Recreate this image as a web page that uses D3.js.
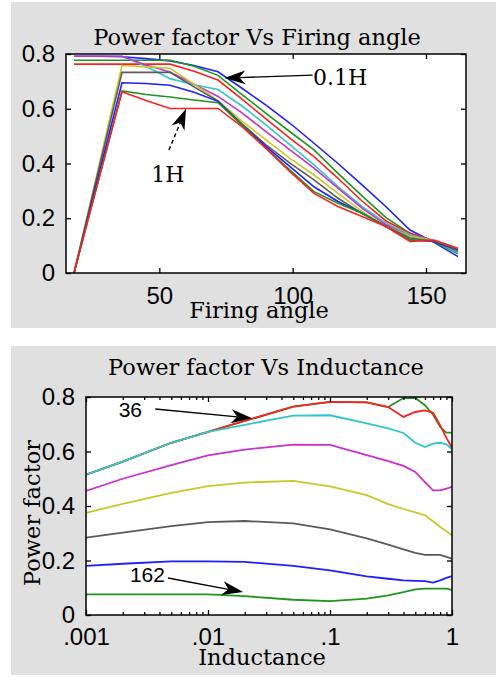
<!DOCTYPE html>
<html>
<head>
<meta charset="utf-8">
<script src="https://d3js.org/d3.v7.min.js"></script>
<style>
  body { margin: 0; background: white; }
</style>
</head>
<body>
<div id="my_dataviz"></div>
<script>

// ---- data : power factor vs firing angle, one series per inductance ----
var alpha = [18, 27, 36, 45, 54, 63, 72, 81, 90, 99, 108, 117, 126, 135, 144, 153, 162];
var inductanceNames = ["0.1H", "0.2H", "0.3H", "0.4H", "0.5H", "0.6H", "0.7H", "0.8H", "0.9H", "1H"];
var pf01 = [.792, .792, .790, .783, .775, .758, .735, .675, .613, .547, .474, .400, .322, .242, .157, .112, .060];
var pf02 = [.777, .777, .777, .777, .777, .755, .722, .652, .583, .516, .450, .364, .282, .202, .145, .115, .070];
var pf03 = [.763, .763, .763, .763, .763, .737, .705, .635, .563, .492, .425, .346, .263, .190, .145, .118, .078];
var pf04 = [.792, .792, .792, .755, .710, .688, .670, .610, .541, .468, .395, .316, .243, .182, .140, .117, .075];
var pf05 = [.792, .792, .792, .760, .734, .690, .645, .585, .516, .450, .383, .310, .237, .176, .134, .117, .080];
var pf06 = [0, .379, .758, .753, .748, .690, .630, .555, .486, .419, .358, .291, .225, .170, .134, .118, .083];
var pf07 = [0, .366, .733, .733, .733, .680, .628, .545, .468, .401, .340, .273, .218, .170, .128, .115, .083];
var pf08 = [0, .348, .695, .692, .686, .660, .627, .540, .462, .389, .315, .261, .218, .170, .121, .115, .085];
var pf09 = [0, .333, .665, .652, .643, .632, .622, .540, .455, .376, .297, .255, .218, .170, .121, .118, .088];
var pf10 = [0, .331, .662, .630, .601, .601, .601, .535, .455, .370, .291, .243, .206, .170, .115, .120, .090];

// ---- data : power factor vs inductance, one series per firing angle ----
var inductance = [0.001, 0.002, 0.005, 0.01, 0.02, 0.05, 0.1, 0.2, 0.3, 0.4, 0.5, 0.6, 0.7, 0.8, 0.9, 1];
var angleNames = ["36", "54", "72", "90", "108", "126", "144", "162"];
var pfA36  = [.515, .563, .632, .672, .712, .765, .782, .780, .763, .796, .796, .770, .735, .690, .669, .669];
var pfA54  = [.515, .563, .632, .672, .712, .765, .782, .780, .763, .727, .745, .751, .742, .696, .650, .613];
var pfA72  = [.515, .563, .632, .672, .698, .732, .733, .703, .685, .668, .632, .616, .629, .632, .626, .608];
var pfA90  = [.455, .500, .550, .586, .607, .625, .624, .587, .565, .547, .525, .488, .457, .457, .464, .470];
var pfA108 = [.375, .408, .448, .473, .486, .492, .472, .440, .407, .389, .377, .366, .344, .323, .307, .292];
var pfA126 = [.284, .302, .326, .341, .345, .336, .314, .281, .258, .241, .228, .221, .221, .221, .213, .207];
var pfA144 = [.180, .188, .197, .197, .195, .180, .164, .142, .133, .127, .125, .124, .119, .127, .136, .143];
var pfA162 = [.076, .076, .076, .076, .069, .056, .051, .060, .072, .084, .094, .097, .097, .097, .097, .092];

// ticks
var pfTicks = [0, 0.2, 0.4, 0.6, 0.8];
var angleTicks = [50, 100, 150];
var indTicks = [0.001, 0.01, 0.1, 1];
var indTickLabels = [".001", ".01", ".1", "1"];

// matlab colour order
var colours = ["#1f1fff", "#1e961e", "#ff1f1f", "#2ec8c8", "#c832c8", "#c8c828", "#5a5a5a"];

var serif = "'DejaVu Serif', serif";
var sans = "'Liberation Sans', Arial, sans-serif";

var svg = d3.select("#my_dataviz")
  .append("svg")
    .attr("width", 496)
    .attr("height", 677);

// grey figure backgrounds
svg.append("rect").attr("x", 11).attr("y", 2).attr("width", 485).attr("height", 326).style("fill", "#e0e0e0");
svg.append("rect").attr("x", 11).attr("y", 346).attr("width", 485).attr("height", 329).style("fill", "#e0e0e0");

// little helper for the annotation arrows
function arrow(g, xa, ya, xb, yb, dashed) {
  var dx = xb - xa, dy = yb - ya;
  var len = Math.sqrt(dx * dx + dy * dy);
  var ux = dx / len, uy = dy / len;
  var hl = 21, hw = 7, notch = 6;
  g.append("line")
    .attr("x1", xa).attr("y1", ya)
    .attr("x2", xb - ux * (hl - notch)).attr("y2", yb - uy * (hl - notch))
    .style("stroke", "black")
    .style("stroke-width", 1.4)
    .style("stroke-dasharray", dashed ? "4,3" : null);
  var bx = xb - ux * hl, by = yb - uy * hl;
  var pts = [
    [xb, yb],
    [bx - uy * hw, by + ux * hw],
    [xb - ux * (hl - notch), yb - uy * (hl - notch)],
    [bx + uy * hw, by - ux * hw]
  ];
  g.append("path")
    .attr("d", "M" + pts.join("L") + "Z")
    .style("fill", "black");
}

// ================= top chart =================
var w1 = 400, h1 = 219;
var g1 = svg.append("g").attr("transform", "translate(66,54)");

var x1 = d3.scaleLinear().domain([15, 165]).range([0, w1]);
var y1 = d3.scaleLinear().domain([0, 0.8]).range([h1, 0]);

g1.append("rect").attr("width", w1).attr("height", h1).style("fill", "white");

g1.append("clipPath").attr("id", "clip1")
  .append("rect").attr("width", w1).attr("height", h1);

var series1 = [pf01, pf02, pf03, pf04, pf05, pf06, pf07, pf08, pf09, pf10];
var line1 = d3.line()
  .x(function(d, i) { return x1(alpha[i]); })
  .y(function(d) { return y1(d); });

g1.append("g").attr("clip-path", "url(#clip1)")
  .selectAll("path")
  .data(series1)
  .enter()
  .append("path")
    .attr("d", line1)
    .style("fill", "none")
    .style("stroke", function(d, i) { return colours[i % 7]; })
    .style("stroke-width", 1.6);

// axes with inward ticks on all four sides
var fmt = function(d) { return d === 0 ? "0" : d3.format(".1f")(d); };
g1.append("g").attr("transform", "translate(0," + h1 + ")")
  .call(d3.axisBottom(x1).tickValues(angleTicks).tickSize(-5).tickPadding(14));
g1.append("g")
  .call(d3.axisLeft(y1).tickValues(pfTicks).tickSize(-5).tickPadding(11).tickFormat(fmt));
g1.append("g")
  .call(d3.axisTop(x1).tickValues(angleTicks).tickSize(-5).tickFormat(""));
g1.append("g").attr("transform", "translate(" + w1 + ",0)")
  .call(d3.axisRight(y1).tickValues(pfTicks).tickSize(-5).tickFormat(""));

g1.append("rect").attr("width", w1).attr("height", h1)
  .style("fill", "none").style("stroke", "black").style("stroke-width", 1.5);

// titles
svg.append("text")
  .attr("x", 257).attr("y", 45)
  .attr("text-anchor", "middle")
  .style("font-family", serif).style("font-size", "22.5px")
  .text("Power factor Vs Firing angle");
svg.append("text")
  .attr("x", 259).attr("y", 318)
  .attr("text-anchor", "middle")
  .style("font-family", serif).style("font-size", "22.5px")
  .text("Firing angle");

// annotations
arrow(g1, x1(107.5), y1(0.723), x1(74.4), y1(0.712), false);
g1.append("text")
  .attr("x", x1(107.6)).attr("y", y1(0.685))
  .style("font-family", serif).style("font-size", "22px")
  .text("0.1H");
arrow(g1, x1(53.6), y1(0.449), x1(60), y1(0.600), true);
g1.append("text")
  .attr("x", x1(53.2)).attr("y", y1(0.332))
  .attr("text-anchor", "middle")
  .style("font-family", serif).style("font-size", "22px")
  .text("1H");

// ================= bottom chart =================
var w2 = 366, h2 = 218;
var g2 = svg.append("g").attr("transform", "translate(86,397)");

var x2 = d3.scaleLog().domain([0.001, 1]).range([0, w2]);
var y2 = d3.scaleLinear().domain([0, 0.8]).range([h2, 0]);

g2.append("rect").attr("width", w2).attr("height", h2).style("fill", "white");

g2.append("clipPath").attr("id", "clip2")
  .append("rect").attr("width", w2).attr("height", h2);

var series2 = [pfA36, pfA54, pfA72, pfA90, pfA108, pfA126, pfA144, pfA162];
var line2 = d3.line()
  .x(function(d, i) { return x2(inductance[i]); })
  .y(function(d) { return y2(d); });

g2.append("g").attr("clip-path", "url(#clip2)")
  .selectAll("path")
  .data(series2)
  .enter()
  .append("path")
    .attr("d", line2)
    .style("fill", "none")
    .style("stroke", function(d, i) { return colours[(i + 1) % 7]; })
    .style("stroke-width", 1.8);

// minor log ticks
var minor = [];
[0.001, 0.01, 0.1].forEach(function(dec) {
  for (var k = 2; k <= 9; k++) minor.push(dec * k);
});
g2.append("g").attr("transform", "translate(0," + h2 + ")")
  .call(d3.axisBottom(x2).tickValues(minor).tickSize(-3).tickFormat(""));
g2.append("g")
  .call(d3.axisTop(x2).tickValues(minor).tickSize(-3).tickFormat(""));

g2.append("g").attr("transform", "translate(0," + h2 + ")")
  .call(d3.axisBottom(x2).tickValues(indTicks).tickSize(-5).tickPadding(13)
    .tickFormat(function(d, i) { return indTickLabels[i]; }));
g2.append("g")
  .call(d3.axisTop(x2).tickValues(indTicks).tickSize(-5).tickFormat(""));
g2.append("g")
  .call(d3.axisLeft(y2).tickValues(pfTicks).tickSize(-5).tickPadding(11).tickFormat(fmt));
g2.append("g").attr("transform", "translate(" + w2 + ",0)")
  .call(d3.axisRight(y2).tickValues(pfTicks).tickSize(-5).tickFormat(""));

g2.append("rect").attr("width", w2).attr("height", h2)
  .style("fill", "none").style("stroke", "black").style("stroke-width", 1.5);

svg.append("text")
  .attr("x", 266).attr("y", 375)
  .attr("text-anchor", "middle")
  .style("font-family", serif).style("font-size", "22.5px")
  .text("Power factor Vs Inductance");
svg.append("text")
  .attr("x", 262).attr("y", 665)
  .attr("text-anchor", "middle")
  .style("font-family", serif).style("font-size", "22.5px")
  .text("Inductance");
svg.append("text")
  .attr("transform", "translate(40,513) rotate(-90)")
  .attr("text-anchor", "middle")
  .style("font-family", serif).style("font-size", "22.5px")
  .text("Power factor");

// annotations
arrow(g2, x2(0.0037), y2(0.756), x2(0.023), y2(0.722), false);
g2.append("text")
  .attr("x", x2(0.00288)).attr("y", y2(0.727))
  .attr("text-anchor", "end")
  .style("font-family", sans).style("font-size", "21px")
  .text(angleNames[0]);
arrow(g2, x2(0.0047), y2(0.136), x2(0.0194), y2(0.084), false);
g2.append("text")
  .attr("x", x2(0.00444)).attr("y", y2(0.121))
  .attr("text-anchor", "end")
  .style("font-family", sans).style("font-size", "21px")
  .text(angleNames[7]);

// tick label fonts
svg.selectAll(".tick text")
  .style("font-family", sans)
  .style("font-size", "24px")
  .style("fill", "black");
svg.selectAll(".domain").remove();
svg.selectAll(".tick line").style("stroke", "black").style("stroke-width", 1.3);

</script>
</body>
</html>
